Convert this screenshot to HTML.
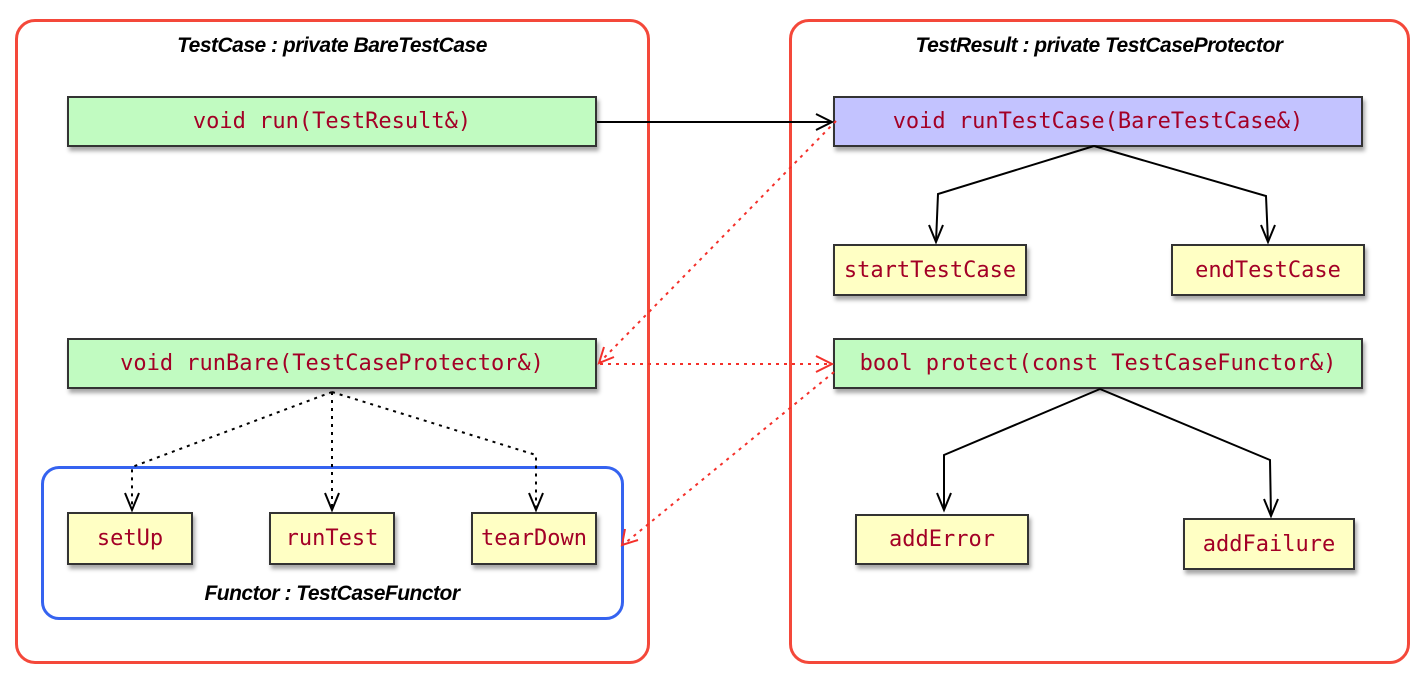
<!DOCTYPE html>
<html><head><meta charset="utf-8"><style>
body{margin:0;background:#fff;width:1424px;height:682px;overflow:hidden;position:relative}
.frame{position:absolute;border:3px solid #f4483a;border-radius:20px;box-sizing:border-box}
.t{position:absolute;font:italic bold 21px "Liberation Sans",sans-serif;color:#000;text-align:center;letter-spacing:-0.5px}
.b{position:absolute;box-sizing:border-box;border:2px solid #333;box-shadow:2px 4px 4px rgba(0,0,0,.35);font:22px "DejaVu Sans Mono","Liberation Mono",monospace;color:#a30026;display:flex;align-items:center;justify-content:center;white-space:nowrap}
.g{background:#c1fbc1}.y{background:#ffffc4}.p{background:#c3c3ff}
</style></head><body>
<div class="frame" style="left:15px;top:19px;width:635px;height:645px"></div>
<div class="frame" style="left:789px;top:19px;width:621px;height:645px"></div>
<div class="frame" style="left:41px;top:466px;width:583px;height:154px;border-color:#3563f0;border-radius:18px"></div>
<div class="t" style="left:16px;width:632px;top:34px">TestCase : private BareTestCase</div>
<div class="t" style="left:790px;width:618px;top:34px">TestResult : private TestCaseProtector</div>
<div class="t" style="left:42px;width:580px;top:582px">Functor : TestCaseFunctor</div>
<div class="b g" style="left:67px;top:96px;width:530px;height:51px">void run(TestResult&amp;)</div>
<div class="b p" style="left:833px;top:96px;width:530px;height:51px">void runTestCase(BareTestCase&amp;)</div>
<div class="b y" style="left:833px;top:244px;width:194px;height:52px">startTestCase</div>
<div class="b y" style="left:1171px;top:244px;width:194px;height:52px">endTestCase</div>
<div class="b g" style="left:67px;top:338px;width:530px;height:51px">void runBare(TestCaseProtector&amp;)</div>
<div class="b g" style="left:833px;top:338px;width:530px;height:51px">bool protect(const TestCaseFunctor&amp;)</div>
<div class="b y" style="left:67px;top:512px;width:126px;height:53px">setUp</div>
<div class="b y" style="left:269px;top:512px;width:126px;height:53px">runTest</div>
<div class="b y" style="left:471px;top:512px;width:126px;height:53px">tearDown</div>
<div class="b y" style="left:855px;top:514px;width:174px;height:51px">addError</div>
<div class="b y" style="left:1183px;top:518px;width:172px;height:52px">addFailure</div>
<svg width="1424" height="682" style="position:absolute;left:0;top:0" fill="none">
<g stroke="#000" stroke-width="2">
<path d="M597 122H832"/><path d="M816 114L832 122L816 130"/>
<path d="M1094 146L938 194L936 242M1094 146L1266 196L1268 242"/>
<path d="M929 225L936 242L943 225M1261 225L1268 242L1275 225"/>
<path d="M1100 389L944 455V510M1100 389L1270 460L1271 516"/>
<path d="M937 493L944 510L951 493M1264 499L1271 516L1278 499"/>
</g>
<g stroke="#000" stroke-width="2" stroke-dasharray="3,5">
<path d="M332 392L132 467V510M332 392V510M332 392L536 455V510"/>
</g>
<g stroke="#000" stroke-width="2"><path d="M125 493L132 510L139 493M325 493L332 510L339 493M529 493L536 510L543 493"/></g>
<g stroke="#f4302a" stroke-width="2" stroke-dasharray="3,5">
<path d="M836 121L600 362M600 364H832M834 372L624 544"/>
</g>
<g stroke="#f4302a" stroke-width="2">
<path d="M604 347L599 363L614 357M816 356L832 364L816 372M625 529L622 545L638 540"/>
</g>
</svg>
</body></html>
